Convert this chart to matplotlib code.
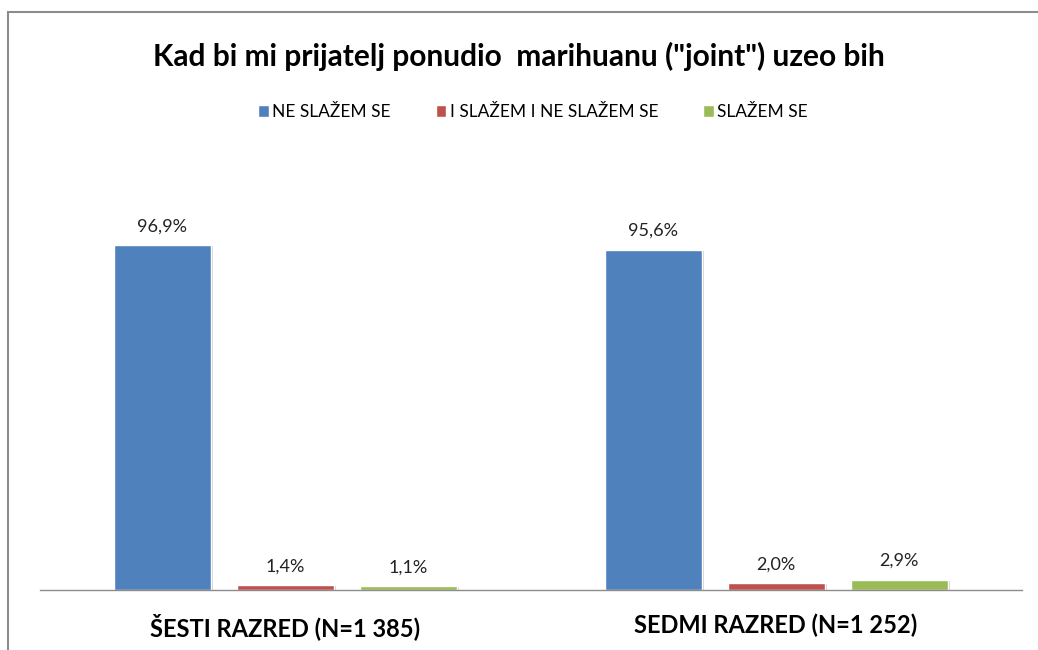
import matplotlib
matplotlib.use("Agg")
import matplotlib.pyplot as plt
from matplotlib.patches import Rectangle
import numpy as np

categories = ["ŠESTI RAZRED (N=1 385)", "SEDMI RAZRED (N=1 252)"]
series = ["NE SLAŽEM SE", "I SLAŽEM I NE SLAŽEM SE", "SLAŽEM SE"]
values = [
    [96.9, 95.6],
    [1.4, 2.0],
    [1.1, 2.9],
]
labels = [
    ["96,9%", "95,6%"],
    ["1,4%", "2,0%"],
    ["1,1%", "2,9%"],
]
colors = ["#4F81BD", "#C0504D", "#9BBB59"]
title = 'Kad bi mi prijatelj ponudio  marihuanu ("joint") uzeo bih'

W, H = 1038, 650
fig = plt.figure(figsize=(W / 100, H / 100), dpi=100)
plt.rcParams['font.family'] = ['Lato', 'DejaVu Sans']

# frame
fig.patches.append(Rectangle((8 / W, -0.1), 1.2, (H - 12) / H + 0.1,
                             transform=fig.transFigure, fill=False,
                             edgecolor="#8C8C8C", linewidth=1.5))

left, right = 39.5 / W, 1021.5 / W
bottom, top = (H - 590) / H, (H - 234) / H
ax = fig.add_axes([left, bottom, right - left, top - bottom])
ax.set_xlim(-0.5, 1.5)
ax.set_ylim(0, 100)

x = np.arange(len(categories))
off = 123 / 491
bw = 97 / 491
for i, (vals, labs, col) in enumerate(zip(values, labels, colors)):
    pos = x + (i - 1) * off
    ax.bar(pos + 0.006, vals, bw, bottom=-0.3, color="#D0D0D0", zorder=1)
    ax.bar(pos, vals, bw, color=col, edgecolor="white", linewidth=1.0,
           zorder=2, label=series[i])
    for p, v, lab in zip(pos, vals, labs):
        ax.text(p, v + 3.0, lab, ha="center", va="bottom", fontsize=13,
                color="#222222")

for s in ["top", "right", "left"]:
    ax.spines[s].set_visible(False)
ax.spines["bottom"].set_color("#8C8C8C")
ax.spines["bottom"].set_linewidth(1.0)
ax.set_yticks([])
ax.set_xticks(x)
ax.set_xticklabels(categories, fontsize=17, fontweight="bold")
ax.tick_params(axis="x", length=0, pad=17)

fig.text(0.5, (H - 56) / H, title, ha="center", va="center",
         fontsize=21.5, fontweight="bold")

handles, labs = ax.get_legend_handles_labels()
leg = fig.legend(handles, labs, loc="center", ncol=3,
                 bbox_to_anchor=(533 / W, (H - 112) / H), frameon=False,
                 fontsize=12.5, handlelength=0.6, handleheight=0.7,
                 handletextpad=0.2, columnspacing=2.6)

fig.savefig("out.png", dpi=100)
